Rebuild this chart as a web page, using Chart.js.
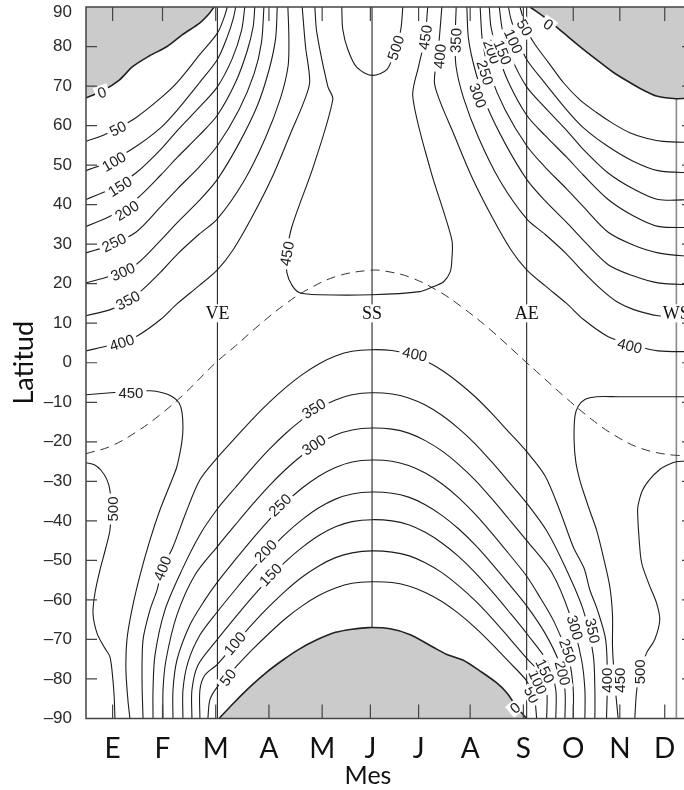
<!DOCTYPE html>
<html>
<head>
<meta charset="utf-8">
<script src="https://cdn.jsdelivr.net/npm/chart.js@4.4.1/dist/chart.umd.min.js"></script>
<style>
html, body { margin: 0; padding: 0; background: #fff; overflow: hidden; }
canvas { display: block; }
</style>
</head>
<body>
<canvas id="insolChart" width="700" height="790"></canvas>
<script>
// x = day of year, y = latitude; each array is one contour line (W/m2)
const monthTicks = [16, 46, 78, 110, 142, 171, 200, 231, 263, 293, 321, 348];
const monthLabels = ['E', 'F', 'M', 'A', 'M', 'J', 'J', 'A', 'S', 'O', 'N', 'D'];
const seasonDays = [79, 172, 265, 355];
const seasonNames = ['VE', 'SS', 'AE', 'WS'];

// northern hemisphere
const n0L = [[0,67],[10,68.8],[20,71.5],[28,74.9],[38,77.6],[48.7,80],[58,83],[68.5,86],[74,88.3],[77,90]];
const n0R = [[267,90],[277,87],[287,83.5],[297,80],[307,76.7],[317,73.5],[327,70.9],[335,69],[343,67.5],[355,66.8],[365,67]];
const n50L = [[0,56],[10,57.5],[19,59.3],[30,62],[45,67],[55,71],[68.5,78],[79,83.4],[83,87.3],[85,90]];
const n50R = [[261,90],[263,87],[266,83.4],[270,80.5],[278,76],[287,70.9],[297,66.5],[307,63.3],[317,60.5],[327,58.2],[337,56.8],[347,56],[365,55.7]];
const n100L = [[0,48.6],[15,51],[30,54.7],[45,59.5],[55,64],[68.5,71],[79,76.7],[85,82.5],[88.5,87],[90,90]];
const n100R = [[254,90],[255.5,87],[259,82.5],[265,76.7],[275.5,71],[289,64],[299,59.5],[314,54.7],[329,51],[344,48.6],[365,48]];
const n150L = [[0,41.3],[15,44],[30,48],[45,54],[55,58.8],[68.5,64.8],[79,69.8],[88,77],[93.5,84],[95.5,90]];
const n150R = [[248.5,90],[250.5,84],[256,77],[265,69.8],[275.5,64.8],[289,58.8],[299,54],[314,48],[329,44],[344,41.3],[365,41.3]];
const n200L = [[0,34.5],[15,37.2],[30,41.3],[45,47.5],[55,52],[68,57.5],[79,62.6],[90,71],[97,79],[100.5,85],[101.5,90]];
const n200R = [[242.5,90],[243.5,85],[247,79],[254,71],[265,62.6],[276,57.5],[289,52],[299,47.5],[314,41.3],[329,37.2],[344,34.5],[365,34.2]];
const n250L = [[0,27.8],[15,29.8],[30,33],[45,39.5],[55,44],[68,49.5],[79,54.9],[92,64],[101,73],[105.5,81],[107,90]];
const n250R = [[237,90],[238.5,81],[243,73],[252,64],[265,54.9],[276,49.5],[289,44],[299,39.5],[314,33],[329,29.8],[344,27.8],[365,26.8]];
const n300L = [[0,20.2],[15,22],[30,24.8],[45,31],[55,35.5],[68,41],[79,46.4],[92,55.5],[103,65],[110,74],[114,82],[115,90]];
const n300R = [[229,90],[230,82],[234,74],[241,65],[252,55.5],[265,46.4],[276,41],[289,35.5],[299,31],[314,24.8],[329,22],[344,20.2],[365,19.7]];
const n350L = [[0,11.9],[15,13.5],[25,15.5],[34,18.5],[45,23],[55,27.5],[68,32.5],[79,36.4],[95,46],[108,57],[117,67],[121.5,75],[122,82],[121.4,90]];
const n350R = [[222.6,90],[222,82],[222.5,75],[227,67],[236,57],[249,46],[265,36.4],[276,32.5],[289,27.5],[299,23],[310,18.5],[319,15.5],[329,13.5],[344,11.9],[365,11.6]];
const n400L = [[0,3],[15,4.5],[30,6.6],[45,11],[55,15],[68,19.5],[79,23.5],[88.5,28.6],[100,37],[112,47],[123,58],[131,66],[134.5,71],[132,80],[130,90]];
const n400R = [[214,90],[212,80],[209.5,71],[213,66],[221,58],[232,47],[244,37],[255.5,28.6],[265,23.5],[276,19.5],[289,15],[299,11],[314,6.6],[329,4.5],[344,3],[365,2.8]];
const n450 = [[137.6,90],[138.8,83.5],[145.4,69.9],[148.4,66.6],[137,50],[123.8,34.4],[120.8,27.6],[120.8,22.8],[124,19.5],[128.6,17.7],[140.6,17.2],[172,17.2],[200.7,18],[208.5,19.2],[215,20.5],[219,23],[220,26.1],[220,31.1],[207,49],[196.5,67.3],[200,75],[203.7,81.8],[205.5,90]];
const n500 = [[153.8,90],[154.4,84.3],[157.5,79.2],[162.9,74.7],[172,72.7],[181,74.2],[186.3,79.7],[189.3,84.3],[190.5,90]];

// southern hemisphere
const s0 = [[80,-90],[89,-86],[98.6,-82],[108,-78.5],[118.4,-75.2],[128,-72.5],[138.8,-70.1],[150,-68.2],[160,-67.4],[170,-67],[183,-67.3],[195,-68.8],[208.5,-71.9],[217,-73.8],[226.6,-75.2],[237,-78],[247,-81],[253,-83.5],[259,-87.1],[265,-90]];
const s50 = [[73.3,-90],[74.5,-85.3],[79,-82],[90,-77],[100,-72.6],[110,-68.5],[120,-64.7],[130,-61.5],[140,-58.9],[150,-57],[160,-55.8],[172,-55.4],[184,-55.6],[194,-56.5],[204,-58.1],[214,-60.4],[224,-63.4],[234,-67],[244,-71.1],[254,-75.5],[265,-80.5],[269.5,-84.5],[271,-90]];
const s100 = [[68.5,-90],[68.5,-82.8],[71.5,-79],[79,-76.3],[90,-70.9],[100,-66.1],[110,-61.7],[120,-57.7],[130,-54.2],[140,-51.4],[150,-49.3],[160,-48.1],[172,-47.6],[184,-47.9],[194,-48.8],[204,-50.6],[214,-53.1],[224,-56.4],[234,-60.2],[244,-64.6],[254,-69.4],[265,-74.8],[273,-78.5],[277,-82.8],[277,-90]];
const s150 = [[63.7,-90],[63.7,-82.8],[67.3,-76.5],[79,-70],[90,-64.3],[100,-59.3],[110,-54.6],[120,-50.3],[130,-46.7],[140,-43.7],[150,-41.5],[160,-40.2],[172,-39.7],[184,-40],[194,-41],[204,-42.9],[214,-45.6],[224,-49],[234,-53.1],[244,-57.8],[254,-62.8],[265,-68.5],[278,-76],[282.5,-82.8],[282.5,-90]];
const s200 = [[58.3,-90],[58.3,-82.8],[61.3,-75.8],[68.5,-68.9],[79,-63],[90,-57.3],[100,-52.3],[110,-47.6],[120,-43.3],[130,-39.7],[140,-36.7],[150,-34.5],[160,-33.2],[172,-32.7],[184,-33],[194,-34],[204,-35.9],[214,-38.6],[224,-42],[234,-46.1],[244,-50.8],[254,-55.8],[265,-61.5],[276,-68.4],[284.5,-75.8],[288,-82.8],[288,-90]];
const s250 = [[52.3,-90],[52.3,-82.8],[54.7,-75.2],[62.5,-66.3],[71.5,-60],[79,-55.5],[90,-49.7],[100,-44.6],[110,-39.8],[120,-35.4],[130,-31.7],[140,-28.7],[150,-26.5],[160,-25.1],[172,-24.6],[184,-24.9],[194,-26],[204,-27.9],[214,-30.6],[224,-34.1],[234,-38.3],[244,-43.1],[254,-48.2],[265,-54],[272.5,-59],[282,-66],[290.5,-75.2],[293,-82.8],[293,-90]];
const s300 = [[46.3,-90],[46.3,-82.8],[48.1,-75.2],[54.7,-63.8],[65.5,-53.7],[79,-46.5],[90,-40.9],[100,-35.9],[110,-31.2],[120,-27],[130,-23.4],[140,-20.5],[150,-18.3],[160,-17],[172,-16.5],[184,-16.8],[194,-17.8],[204,-19.7],[214,-22.3],[224,-25.7],[234,-29.7],[244,-34.4],[254,-39.4],[265,-45],[280,-53],[291,-63.8],[298,-75.2],[300,-82.8],[300,-90]];
const s350 = [[40.3,-90],[40.3,-82.8],[41.5,-73.9],[47.5,-62.5],[57.7,-52.4],[68.5,-43.5],[79,-37],[90,-31.5],[100,-26.6],[110,-22],[120,-17.9],[130,-14.4],[140,-11.5],[150,-9.4],[160,-8.1],[172,-7.6],[184,-7.9],[194,-8.9],[204,-10.7],[214,-13.3],[224,-16.6],[234,-20.5],[244,-25.1],[254,-30],[265,-35.5],[277,-42.5],[288.5,-52],[299,-62.5],[305,-73.9],[306,-82.8],[306,-90]];
const s400 = [[34.3,-90],[33.7,-80.3],[34.3,-70.1],[38.5,-62.5],[42.7,-57.5],[46,-52],[52.3,-46.6],[60,-38],[68.5,-29.6],[79,-24],[90,-18.9],[100,-14.3],[110,-10.1],[120,-6.3],[130,-3],[140,-0.3],[150,1.7],[160,2.9],[172,3.3],[184,3.1],[194,2.2],[204,0.5],[214,-1.9],[224,-5],[234,-8.6],[244,-12.8],[254,-17.4],[265,-22.5],[276,-28.6],[285,-37.5],[293,-46.6],[299.5,-52],[303,-57.5],[307.5,-62.5],[312.5,-70.1],[313.5,-80.3],[313,-90]];
const s450L = [[0,-8.1],[15,-7.6],[27,-7.3],[38.5,-7.1],[46,-7.6],[52,-8.6],[56,-10.2],[57.7,-12.5],[58.3,-16.2],[57.8,-19.5],[56.5,-22.8],[54.5,-26.5],[51.7,-29.6],[44.5,-37.2],[38.5,-44.8],[32.5,-53.7],[27.6,-62.5],[24.6,-70.1],[24,-77.7],[25.2,-85.3],[26.4,-90]];
const s450R = [[365,-8.6],[345,-8.6],[320,-8.6],[307,-8.6],[300,-9.3],[296,-11],[294,-13.5],[293.5,-19.5],[294.5,-25],[296.5,-29],[298.6,-32],[303,-37.5],[307,-42.3],[311,-49],[315,-56.7],[316.6,-64],[316.6,-71.9],[318,-81],[320,-90]];
const s500L = [[0,-25.3],[5,-25.8],[9,-27.2],[12.5,-29.5],[14.4,-32.3],[15,-37],[14.4,-42.3],[11.5,-47.5],[8.4,-52.4],[5.5,-58],[4.2,-63.3],[6.6,-68.4],[11,-72],[14.4,-74.4],[16.2,-80.3],[17,-85],[17.4,-90]];
const s500R = [[365,-24.8],[355.8,-25],[350,-25.8],[345,-27],[339,-29.5],[334.7,-32.2],[332,-36],[331.7,-38],[332.5,-44],[334.1,-50.6],[338.5,-56],[343.1,-60.8],[345,-65],[342,-70],[337.1,-73.4],[333,-78.2],[331,-83.5],[330,-90]];

// latitude of the overhead sun (dashed)
const sunPath = [[0,-23],[15,-21.1],[31,-17.3],[45,-13],[59,-7.9],[78,0],[90,4.3],[104,9.5],[120,14.9],[134,18.7],[151,21.9],[171,23.4],[181,23.1],[195,21.6],[212,18.1],[226,14.1],[243,8.4],[265,0],[273,-3],[287,-8.3],[304,-14.3],[318,-18.4],[334,-21.7],[354,-23.4],[365,-23.1]];

// contour labels: text, day, latitude, rotation (deg)
const contourLabels = [
  ['0', 9.6, 68.4, -20], ['50', 19.2, 59.2, -27], ['100', 16.8, 50.9, -30], ['150', 20.4, 44.6, -32],
  ['200', 24.6, 38.5, -32], ['250', 16.8, 30.4, -26], ['300', 22.2, 23, -24], ['350', 25.2, 15.8, -28],
  ['400', 21.6, 5.1, -18], ['450', 27, -7.5, 0],
  ['450', 120.8, 27.6, -80], ['500', 186.3, 79.7, -72], ['450', 204, 82.3, -82], ['400', 212.7, 77.5, -85],
  ['350', 222.4, 81.5, -88],
  ['300', 235.6, 67.6, 70], ['250', 240, 73.4, 72], ['200', 244, 78.7, 70], ['150', 250.6, 78.5, 68],
  ['100', 257, 81.3, 66], ['50', 263.8, 84.8, 60], ['0', 278, 85.6, 35],
  ['400', 327, 4.3, 14], ['400', 197.7, 2.2, 12],
  ['350', 137, -11.6, -32], ['300', 137, -20.8, -32], ['250', 116.6, -36, -44], ['200', 108, -47.6, -46],
  ['150', 111, -53.6, -46], ['100', 89.5, -71, -50], ['50', 85.3, -79.6, -52], ['400', 46, -52, -68],
  ['500', 16.2, -37, -90], ['0', 258, -87.3, -40],
  ['50', 268, -84, 64], ['100', 271.6, -80.8, 66], ['150', 276, -78, 64], ['200', 286.6, -78.5, 76],
  ['250', 289.7, -72.9, 70], ['300', 294, -67, 74], ['350', 304.7, -67.8, 78],
  ['400', 313, -80.3, -90], ['450', 321, -80.3, -90], ['500', 333, -78.2, -90]
];

function contour(pts, extra) {
  return Object.assign({
    data: pts.map(p => ({x: p[0], y: p[1]})),
    borderColor: '#1c1c1c',
    borderWidth: 1.1,
    pointRadius: 0,
    tension: 0.3,
    fill: false,
    order: 2
  }, extra || {});
}

const polar = {fill: 'end', backgroundColor: '#cbcbcb', borderColor: '#222', borderWidth: 1.6, order: 1};
const polarS = {fill: 'start', backgroundColor: '#cbcbcb', borderColor: '#222', borderWidth: 1.6, order: 1};

const datasets = [
  contour(n0L, polar), contour(n0R, polar), contour(s0, polarS),
  contour(n50L), contour(n50R), contour(n100L), contour(n100R), contour(n150L), contour(n150R),
  contour(n200L), contour(n200R), contour(n250L), contour(n250R), contour(n300L), contour(n300R),
  contour(n350L), contour(n350R), contour(n400L), contour(n400R), contour(n450), contour(n500),
  contour(s50), contour(s100), contour(s150), contour(s200), contour(s250), contour(s300),
  contour(s350), contour(s400), contour(s450L), contour(s450R), contour(s500L), contour(s500R),
  contour(sunPath, {borderDash: [9, 6], borderColor: '#333', borderWidth: 1, tension: 0.4})
];

const decorations = {
  id: 'decorations',
  beforeDatasetsDraw(chart) {
    const {ctx, chartArea: a, scales: {x, y}} = chart;
    ctx.save();
    seasonDays.forEach((d, i) => {
      const px = x.getPixelForValue(d);
      ctx.strokeStyle = i === 3 ? '#8a8a8a' : '#111';
      ctx.lineWidth = i === 3 ? 1.6 : 1;
      ctx.beginPath();
      ctx.moveTo(px, a.top);
      ctx.lineTo(px, a.bottom);
      ctx.stroke();
    });
    ctx.restore();
  },
  afterDatasetsDraw(chart) {
    const {ctx, chartArea: a, scales: {x, y}} = chart;
    ctx.save();
    ctx.beginPath();
    ctx.rect(a.left, a.top, a.right - a.left, a.bottom - a.top);
    ctx.clip();
    ctx.textAlign = 'center';
    ctx.textBaseline = 'middle';
    ctx.font = "15px 'Liberation Sans', Arial, sans-serif";
    contourLabels.forEach(([t, d, lat, ang]) => {
      const w = ctx.measureText(t).width;
      ctx.save();
      ctx.translate(x.getPixelForValue(d), y.getPixelForValue(lat));
      ctx.rotate(ang * Math.PI / 180);
      ctx.fillStyle = '#fff';
      ctx.fillRect(-w / 2 - 3, -7, w + 6, 14);
      ctx.fillStyle = '#222';
      ctx.fillText(t, 0, 1);
      ctx.restore();
    });
    ctx.font = "18px 'Liberation Serif', 'DejaVu Serif', serif";
    seasonDays.forEach((d, i) => {
      const px = x.getPixelForValue(d), py = y.getPixelForValue(12.5);
      const w = ctx.measureText(seasonNames[i]).width;
      ctx.fillStyle = '#fff';
      ctx.fillRect(px - w / 2 - 2, py - 9, w + 4, 18);
      ctx.fillStyle = '#111';
      ctx.fillText(seasonNames[i], px, py + 1);
    });
    ctx.restore();

    // frame and inward ticks
    ctx.save();
    ctx.strokeStyle = '#444';
    ctx.lineWidth = 1.5;
    ctx.strokeRect(a.left, a.top, a.right - a.left, a.bottom - a.top);
    ctx.lineWidth = 1.2;
    ctx.beginPath();
    monthTicks.forEach(v => {
      const px = x.getPixelForValue(v);
      ctx.moveTo(px, a.bottom); ctx.lineTo(px, a.bottom - 14);
      ctx.moveTo(px, a.top); ctx.lineTo(px, a.top + 14);
    });
    y.ticks.forEach(t => {
      if (Math.abs(t.value) === 90) return;
      const py = y.getPixelForValue(t.value);
      ctx.moveTo(a.left, py); ctx.lineTo(a.left + 11, py);
      ctx.moveTo(a.right, py); ctx.lineTo(a.right - 11, py);
    });
    ctx.stroke();
    ctx.restore();
  },
  afterDraw(chart) {
    const ctx = chart.ctx;
    ctx.save();
    ctx.font = "25px Lato, 'Open Sans', sans-serif";
    ctx.fillStyle = '#111';
    ctx.textAlign = 'center';
    ctx.textBaseline = 'middle';
    ctx.fillText('Mes', 368, 776);
    ctx.restore();
  }
};

new Chart(document.getElementById('insolChart').getContext('2d'), {
  type: 'line',
  data: {datasets: datasets},
  options: {
    responsive: false,
    animation: false,
    events: [],
    layout: {padding: {top: 7, right: 7, left: 0, bottom: 0}},
    plugins: {legend: {display: false}, tooltip: {enabled: false}},
    scales: {
      x: {
        type: 'linear',
        min: 0,
        max: 365,
        grid: {display: false, drawTicks: false},
        border: {display: false},
        afterBuildTicks: s => { s.ticks = monthTicks.map(v => ({value: v})); },
        afterFit: s => { s.height = 71.5; s.paddingLeft = 0; s.paddingRight = 0; },
        ticks: {
          autoSkip: false,
          maxRotation: 0,
          padding: 14,
          color: '#111',
          font: {family: "Lato, 'Open Sans', sans-serif", size: 28},
          callback: (v, i) => monthLabels[i]
        }
      },
      y: {
        type: 'linear',
        min: -90,
        max: 90,
        grid: {display: false, drawTicks: false},
        border: {display: false},
        afterFit: s => { s.width = 86; s.paddingTop = 0; s.paddingBottom = 0; },
        ticks: {
          stepSize: 10,
          padding: 14,
          color: '#2a2a2a',
          font: c => ({family: "'Liberation Sans', Arial, sans-serif", size: 17,
                       lineHeight: c.tick && c.tick.value === 90 ? 0.6 : 1.2}),
          // the top label sits a little below its tick, as in the source figure
          callback: v => v === 90 ? ['', '90'] : String(v).replace('-', '\u2013')
        },
        title: {
          display: true,
          text: 'Latitud',
          color: '#111',
          font: {family: "Lato, 'Open Sans', sans-serif", size: 27},
          padding: {top: 8, bottom: 0}
        }
      }
    }
  },
  plugins: [decorations]
});
</script>
</body>
</html>
